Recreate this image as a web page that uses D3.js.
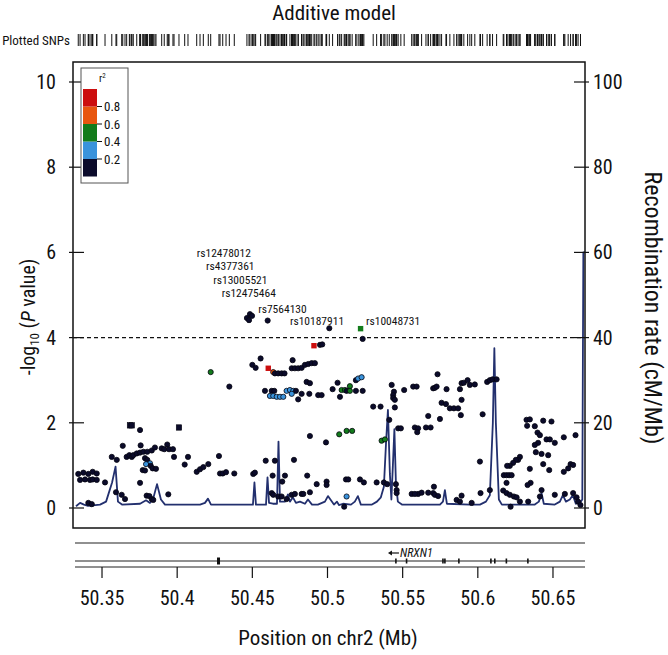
<!DOCTYPE html>
<html><head><meta charset="utf-8">
<script src="https://cdn.jsdelivr.net/npm/d3@7"></script>
<style>
html,body{margin:0;padding:0;background:#fff;}
svg{display:block;}
text{font-family:"Liberation Sans Narrow","Arial Narrow","Roboto Condensed",Roboto,sans-serif;fill:#111;}
</style></head><body>
<svg id="chart" width="668" height="655"></svg>
<script>
// ---------------- data ----------------
const r2Breaks = [0, 0.2, 0.4, 0.6, 0.8, 1.0];
const r2Colors = ["#0b0b2b", "#3a93dc", "#137c1b", "#e8560f", "#cc0e0e"];
const r2TickLabels = ["0.2", "0.4", "0.6", "0.8"];
const xTicks = [50.35, 50.4, 50.45, 50.5, 50.55, 50.6, 50.65];
const yTicks = [0, 2, 4, 6, 8, 10];
const recombTicks = [0, 20, 40, 60, 80, 100];
const sigThreshold = 4;

// [position Mb, -log10 P, r2 class (0..4), shape (0 circle, 1 square)]
const snps = [
  [50.4464,4.46,0,0],[50.4484,4.55,0,0],[50.4498,4.51,0,0],[50.4478,4.41,0,0],
  [50.4602,4.40,0,0],[50.5012,4.22,0,0],[50.5220,4.21,2,1],[50.5234,3.97,0,0],
  [50.4910,3.81,4,1],[50.4950,3.83,0,0],[50.4965,3.84,0,0],
  [50.4555,3.51,0,0],[50.4500,3.36,0,0],[50.4522,3.29,0,0],[50.4606,3.28,4,1],
  [50.4639,3.19,3,0],[50.4650,3.16,0,0],[50.4672,3.16,0,0],[50.4695,3.16,0,0],[50.4714,3.16,0,0],
  [50.4768,3.47,0,0],[50.4762,3.28,0,0],[50.4783,3.28,0,0],[50.4805,3.28,0,0],[50.4828,3.29,0,0],
  [50.4850,3.36,0,0],[50.4872,3.38,0,0],[50.4895,3.40,0,0],[50.4916,3.40,0,0],
  [50.4861,2.96,0,0],[50.4883,2.93,0,0],[50.5067,2.94,0,0],
  [50.5189,3.00,0,0],[50.5204,3.04,1,0],[50.5227,3.07,1,0],[50.5149,2.86,2,0],[50.5034,2.79,0,0],
  [50.4584,2.75,0,0],[50.4629,2.75,0,0],[50.4646,2.75,0,0],[50.4728,2.75,1,0],[50.4750,2.77,1,0],
  [50.4772,2.75,1,0],[50.4790,2.75,0,0],[50.4828,2.68,0,0],[50.4879,2.68,0,0],[50.4938,2.65,0,0],[50.4961,2.65,0,0],
  [50.4617,2.63,1,0],[50.4639,2.63,1,0],[50.4662,2.61,1,0],[50.4684,2.61,1,0],[50.4706,2.61,1,0],
  [50.4762,2.68,1,0],[50.4805,2.55,0,0],[50.5083,2.61,0,0],
  [50.5094,2.77,2,0],[50.5116,2.77,2,0],[50.5127,2.75,0,0],[50.5149,2.75,2,0],[50.5189,2.75,0,0],[50.5234,2.75,0,0],
  [50.5427,2.89,0,0],[50.5442,2.73,0,0],[50.5437,2.65,0,0],[50.5437,2.58,0,0],[50.5448,2.54,0,0],[50.5448,2.36,0,0],
  [50.5510,2.77,0,0],[50.5570,2.85,0,0],[50.5593,2.85,0,0],
  [50.5304,2.38,0,0],[50.5353,2.38,0,0],[50.5411,2.07,0,0],[50.5470,1.87,0,0],[50.5488,1.87,0,0],
  [50.4883,1.69,0,0],[50.4990,1.54,0,0],[50.5078,1.73,2,0],[50.5127,1.81,2,0],[50.5164,1.81,2,0],
  [50.5360,1.58,2,0],[50.5382,1.61,2,0],
  [50.4589,1.11,0,0],[50.4650,1.11,0,0],[50.4777,1.13,0,0],
  [50.4506,0.80,0,0],[50.4517,0.83,0,0],[50.4635,0.76,0,0],[50.4717,0.76,0,0],[50.4699,0.62,0,0],
  [50.4865,0.76,0,0],[50.4928,0.56,0,0],[50.4994,0.62,0,0],[50.4994,0.54,0,0],
  [50.5123,0.67,0,0],[50.5138,0.67,0,0],[50.5216,0.67,0,0],[50.5242,0.60,0,0],[50.5327,0.60,0,0],
  [50.5375,0.60,0,0],[50.5397,0.56,0,0],[50.5455,0.56,0,0],
  [50.4629,0.35,0,0],[50.4639,0.31,0,0],[50.4672,0.27,0,0],[50.4695,0.27,0,0],[50.4728,0.21,0,0],
  [50.4762,0.31,0,0],[50.4783,0.33,0,0],[50.4828,0.33,0,0],[50.4839,0.33,0,0],[50.4883,0.37,0,0],
  [50.5127,0.27,1,0],[50.5111,0.03,0,0],[50.5460,0.42,0,0],[50.5460,0.35,0,0],[50.5560,0.33,0,0],[50.5603,0.33,0,0],
  [50.5732,3.14,0,0],[50.5703,2.81,0,0],[50.5714,2.82,0,0],[50.5726,2.85,0,0],[50.5792,2.79,0,0],
  [50.5892,2.93,0,0],[50.5907,2.94,0,0],[50.5881,2.79,0,0],[50.5932,3.00,0,0],[50.5947,2.89,0,0],[50.5980,2.90,0,0],
  [50.6062,2.96,0,0],[50.6080,3.00,0,0],[50.6098,3.02,0,0],[50.6125,3.02,0,0],
  [50.5759,2.47,0,0],[50.5788,2.44,0,0],[50.5814,2.34,0,0],[50.5841,2.34,0,0],[50.5869,2.34,0,0],[50.5892,2.54,0,0],
  [50.5670,2.16,0,0],[50.5748,2.09,0,0],[50.5887,2.18,0,0],[50.6032,2.20,0,0],
  [50.5581,1.89,0,0],[50.5603,1.87,0,0],[50.5597,1.78,0,0],[50.5655,1.89,0,0],[50.5686,1.89,0,0],
  [50.6014,1.09,0,0],
  [50.6324,2.07,0,0],[50.6346,2.08,0,0],[50.6328,1.93,0,0],[50.6379,1.92,0,0],[50.6435,2.05,0,0],[50.6490,2.03,0,0],
  [50.6397,1.77,0,0],[50.6413,1.71,0,0],[50.6457,1.61,0,0],[50.6479,1.61,0,0],[50.6512,1.53,0,0],
  [50.6572,1.66,0,0],[50.6650,1.71,0,0],[50.6401,1.53,0,0],[50.6379,1.48,0,0],
  [50.6386,1.31,0,0],[50.6424,1.27,0,0],[50.6468,1.24,0,0],[50.6435,1.03,0,0],[50.6475,0.89,0,0],[50.6346,0.92,0,0],
  [50.6280,1.20,0,0],[50.6268,1.13,0,0],[50.6253,1.13,0,0],[50.6235,1.06,0,0],[50.6213,0.99,0,0],[50.6195,0.99,0,0],
  [50.6572,0.85,0,0],[50.6601,0.93,0,0],[50.6617,1.03,0,0],[50.6634,1.01,0,0],
  [50.6173,0.77,0,0],[50.6191,0.77,0,0],[50.6208,0.77,0,0],[50.6225,0.77,0,0],[50.6191,0.59,0,0],
  [50.6351,0.59,0,0],[50.6331,0.54,0,0],[50.5708,0.50,0,0],[50.6424,0.42,0,0],[50.6080,0.42,0,0],[50.6018,0.35,0,0],
  [50.5581,0.33,0,0],[50.5626,0.36,0,0],[50.5670,0.36,0,0],[50.5703,0.35,0,0],[50.5714,0.31,0,0],[50.5736,0.28,0,0],
  [50.5892,0.29,0,0],[50.5859,0.19,0,0],[50.5881,0.15,0,0],[50.5959,0.12,0,0],
  [50.6169,0.41,0,0],[50.6191,0.35,0,0],[50.6213,0.31,0,0],[50.6240,0.27,0,0],[50.6258,0.25,0,0],[50.6218,0.03,0,0],
  [50.6280,0.15,0,0],[50.6413,0.27,0,0],[50.6512,0.31,0,0],[50.6579,0.33,0,0],[50.6634,0.35,0,0],
  [50.6657,0.25,0,0],[50.6667,0.15,0,0],[50.6683,0.07,0,0],[50.6335,0.15,0,0],
  [50.4223,3.19,2,0],[50.4347,2.85,0,0],[50.3686,1.94,0,1],[50.3698,1.94,0,1],[50.3753,1.83,0,0],[50.4012,1.89,0,1],
  [50.3638,1.46,0,0],[50.3757,1.47,0,0],[50.3565,1.20,0,0],[50.3598,1.13,0,0],
  [50.3664,1.20,0,0],[50.3682,1.24,0,0],[50.3698,1.20,0,0],[50.3708,1.24,0,0],[50.3731,1.28,0,0],
  [50.3753,1.30,0,0],[50.3775,1.32,0,0],[50.3801,1.32,0,0],[50.3831,1.35,0,0],[50.3852,1.42,0,0],
  [50.3897,1.40,0,0],[50.3914,1.38,0,0],[50.3934,1.49,0,0],[50.3946,1.38,0,0],[50.3972,1.38,0,0],[50.3979,1.20,0,0],
  [50.3786,1.17,0,0],[50.3801,1.13,0,0],[50.3819,1.05,1,0],[50.3793,1.03,1,0],[50.3824,0.99,0,0],
  [50.3771,0.89,0,0],[50.3786,0.88,0,0],[50.3837,0.93,0,0],[50.3859,0.92,0,0],
  [50.4050,1.02,0,0],[50.4072,1.20,0,0],[50.4130,0.85,0,0],[50.4152,0.91,0,0],[50.4174,0.96,0,0],[50.4207,1.03,0,0],
  [50.4278,1.22,0,0],[50.4285,0.81,0,0],[50.4303,0.81,0,0],[50.4325,0.84,0,0],[50.4380,0.81,0,0],
  [50.3342,0.80,0,0],[50.3376,0.83,0,0],[50.3409,0.80,0,0],[50.3438,0.85,0,0],[50.3465,0.81,0,0],
  [50.3354,0.66,0,0],[50.3387,0.67,0,0],[50.3420,0.66,0,0],[50.3438,0.67,0,0],[50.3465,0.66,0,0],
  [50.3520,0.60,0,0],[50.3753,0.59,0,0],[50.3593,0.37,0,0],[50.3631,0.31,0,0],[50.3653,0.21,0,0],
  [50.3797,0.29,0,0],[50.3815,0.28,0,0],[50.3831,0.21,0,0],[50.3841,0.19,0,0],[50.3941,0.32,0,0],
  [50.3409,0.12,0,0],[50.3432,0.09,0,0]
];

// labelled SNPs: text anchor position (Mb, -log10 P)
const snpLabels = [
  ["rs12478012", 50.4130, 5.89],
  ["rs4377361",  50.4192, 5.59],
  ["rs13005521", 50.4240, 5.25],
  ["rs12475464", 50.4296, 4.95],
  ["rs7564130",  50.4539, 4.57],
  ["rs10187911", 50.4750, 4.29],
  ["rs10048731", 50.5256, 4.29]
];

// recombination rate [position Mb, cM/Mb]
const recomb = [
  [50.3327,0.4],[50.3354,1.2],[50.3380,0.8],[50.3407,0.5],[50.3487,0.8],[50.3527,1.5],[50.3567,6],
  [50.3590,9.7],[50.3606,1.5],[50.3633,0.8],[50.3753,1],[50.3793,1.8],[50.3819,1.2],[50.3839,2],
  [50.3866,5.6],[50.3892,2],[50.3919,0.8],[50.4152,0.8],[50.4185,1.2],[50.4205,2.2],[50.4225,0.8],
  [50.4504,0.8],[50.4514,6],[50.4524,0.8],[50.4591,0.8],[50.4601,7.2],[50.4611,1.2],[50.4637,1],
  [50.4664,1],[50.4674,15.6],[50.4684,1.5],[50.4717,1.5],[50.4737,3.2],[50.4750,1.5],[50.4770,2.5],
  [50.4790,1.2],[50.4817,1.5],[50.4850,1],[50.4870,2],[50.4897,0.8],[50.4936,0.8],[50.4983,1.5],
  [50.5003,2.8],[50.5023,1.8],[50.5043,0.8],[50.5063,1.5],[50.5076,0.7],[50.5103,1],[50.5156,0.8],
  [50.5182,1.5],[50.5202,2.8],[50.5222,0.8],[50.5296,0.8],[50.5329,1.5],[50.5355,2.5],[50.5375,5],
  [50.5389,15],[50.5402,23],[50.5415,8],[50.5425,2],[50.5435,10],[50.5445,18.5],[50.5455,6],
  [50.5468,1.5],[50.5495,0.8],[50.5748,0.8],[50.5768,1.5],[50.5781,4.2],[50.5794,1],[50.5947,0.8],
  [50.6014,0.8],[50.6054,1.5],[50.6080,3],[50.6100,20],[50.6110,37.5],[50.6120,20],[50.6140,2],
  [50.6160,0.8],[50.6379,0.8],[50.6406,1.5],[50.6424,3.5],[50.6439,1],[50.6512,0.8],[50.6546,1.5],
  [50.6566,3],[50.6586,1.5],[50.6612,2],[50.6632,3],[50.6652,1],[50.6679,1.2],[50.6695,2],
  [50.6702,60],[50.6719,60]
];

// gene track
const geneName = "NRXN1";
const geneLabelPos = 50.5482;
const geneExons = [50.4275, 50.5455, 50.5526, 50.5768, 50.5781, 50.5874, 50.6087, 50.6113, 50.6190, 50.6333];

// ---------------- layout ----------------
const svg = d3.select("#chart");
const L = 73, R = 585, T = 62, B = 528;
const x = d3.scaleLinear().domain([50.3307, 50.6713]).range([L, R]);
const y = d3.scaleLinear().domain([0, 10]).range([508, 82]);
const yR = d3.scaleLinear().domain([0, 100]).range([508, 82]);
const col = d3.scaleOrdinal().domain([0,1,2,3,4]).range(r2Colors);

svg.append("defs").append("clipPath").attr("id","clip")
  .append("rect").attr("x",L).attr("y",T).attr("width",R-L).attr("height",B-T);

// title
svg.append("text").attr("x",334).attr("y",20).attr("text-anchor","middle")
  .attr("font-size",21).text("Additive model");

// plotted SNPs rug
svg.append("text").attr("x",70).attr("y",45).attr("text-anchor","end")
  .attr("font-size",13).text("Plotted SNPs");
svg.append("g").selectAll("line").data(snps).join("line")
  .attr("x1",d=>x(d[0])).attr("x2",d=>x(d[0])).attr("y1",34).attr("y2",46)
  .attr("stroke","#111").attr("stroke-width",1);

// recombination line
const plot = svg.append("g").attr("clip-path","url(#clip)");
plot.append("path").datum(recomb)
  .attr("d", d3.line().x(d=>x(d[0])).y(d=>yR(d[1])))
  .attr("fill","none").attr("stroke","#23306e").attr("stroke-width",1.8)
  .attr("stroke-linejoin","round");

// significance line
plot.append("line").attr("x1",L).attr("x2",R).attr("y1",y(sigThreshold)).attr("y2",y(sigThreshold))
  .attr("stroke","#111").attr("stroke-width",1.3).attr("stroke-dasharray","4,3");

// points
const pts = plot.append("g");
pts.selectAll("circle").data(snps.filter(d=>d[3]===0)).join("circle")
  .attr("cx",d=>x(d[0])).attr("cy",d=>y(d[1])).attr("r",2.6)
  .attr("fill",d=>col(d[2])).attr("stroke","#050510").attr("stroke-width",0.8);
pts.selectAll("rect").data(snps.filter(d=>d[3]===1)).join("rect")
  .attr("x",d=>x(d[0])-2.7).attr("y",d=>y(d[1])-2.7).attr("width",5.4).attr("height",5.4)
  .attr("fill",d=>col(d[2])).attr("stroke",d=>d[2]===0?"#050510":"none").attr("stroke-width",0.6);

// SNP labels
svg.append("g").selectAll("text").data(snpLabels).join("text")
  .attr("x",d=>x(d[1])).attr("y",d=>y(d[2]))
  .attr("font-family","'Liberation Sans',Arial,sans-serif")
  .attr("font-size",11.5).text(d=>d[0]);

// box
svg.append("rect").attr("x",L).attr("y",T).attr("width",R-L).attr("height",B-T)
  .attr("fill","none").attr("stroke","#111").attr("stroke-width",1.5);

// left axis
const gl = svg.append("g");
yTicks.forEach(t=>{
  gl.append("line").attr("x1",L-4).attr("x2",L+11).attr("y1",y(t)).attr("y2",y(t))
    .attr("stroke","#111").attr("stroke-width",1.2);
});
gl.selectAll("text").data(yTicks).join("text")
  .attr("x",56).attr("y",d=>y(d)+7).attr("text-anchor","end").attr("font-size",20).text(d=>d);

// right axis
const gr = svg.append("g");
recombTicks.forEach(t=>{
  gr.append("line").attr("x1",R-11).attr("x2",R+4).attr("y1",yR(t)).attr("y2",yR(t))
    .attr("stroke","#111").attr("stroke-width",1.2);
});
gr.selectAll("text").data(recombTicks).join("text")
  .attr("x",593).attr("y",d=>yR(d)+7).attr("text-anchor","start").attr("font-size",20).text(d=>d);

// axis titles
const yl = svg.append("text").attr("transform","translate(35,317) rotate(-90)")
  .attr("text-anchor","middle").attr("font-size",20);
yl.append("tspan").text("-log");
yl.append("tspan").attr("font-size",13).attr("dy",4).text("10");
yl.append("tspan").attr("dy",-4).text(" (");
yl.append("tspan").attr("font-style","italic").text("P");
yl.append("tspan").text(" value)");

svg.append("text").attr("transform","translate(645,308) rotate(90)")
  .attr("text-anchor","middle").attr("font-size",24).text("Recombination rate (cM/Mb)");

// gene panel
const gp = svg.append("g");
[543, 561, 567].forEach(yy=>{
  gp.append("line").attr("x1",75).attr("x2",R).attr("y1",yy).attr("y2",yy).attr("stroke","#222").attr("stroke-width",1.2);
});
gp.selectAll("rect.exon").data(geneExons).join("rect").attr("class","exon")
  .attr("x",(d,i)=>x(d)-(i===0?1.5:0.8)).attr("y",(d,i)=>i===0?557.5:558.5)
  .attr("width",(d,i)=>i===0?3:1.6).attr("height",(d,i)=>i===0?7:5).attr("fill","#111");
gp.append("text").attr("x",x(geneLabelPos)).attr("y",557).attr("font-size",12)
  .attr("font-style","italic").text(geneName);
gp.append("line").attr("x1",x(geneLabelPos)-1).attr("x2",x(geneLabelPos)-10).attr("y1",553).attr("y2",553)
  .attr("stroke","#111").attr("stroke-width",1.2);
gp.append("path").attr("d",`M${x(geneLabelPos)-12},553 l4,-2.5 l0,5 z`).attr("fill","#111");

// x axis
const gx = svg.append("g");
gx.selectAll("line").data(xTicks).join("line")
  .attr("x1",d=>x(d)).attr("x2",d=>x(d)).attr("y1",567).attr("y2",578)
  .attr("stroke","#111").attr("stroke-width",1.2);
gx.selectAll("text").data(xTicks).join("text")
  .attr("x",d=>x(d)).attr("y",605).attr("text-anchor","middle").attr("font-size",20).text(d=>d);
svg.append("text").attr("x",328).attr("y",645).attr("text-anchor","middle")
  .attr("font-size",21).text("Position on chr2 (Mb)");

// legend
const lg = svg.append("g");
lg.append("rect").attr("x",81).attr("y",68).attr("width",47).attr("height",115)
  .attr("fill","#fff").attr("stroke","#555").attr("stroke-width",1);
const ly = d3.scaleLinear().domain([0,1]).range([176.5, 89]);
lg.selectAll("rect.blk").data(r2Colors).join("rect").attr("class","blk")
  .attr("x",83).attr("width",14).attr("y",(d,i)=>ly(r2Breaks[i+1])).attr("height",(d,i)=>ly(r2Breaks[i])-ly(r2Breaks[i+1]))
  .attr("fill",d=>d);
lg.selectAll("line").data(r2TickLabels).join("line")
  .attr("x1",97).attr("x2",102).attr("y1",d=>ly(+d)).attr("y2",d=>ly(+d)).attr("stroke","#111");
lg.selectAll("text.lab").data(r2TickLabels).join("text").attr("class","lab")
  .attr("x",104).attr("y",d=>ly(+d)+4.5).attr("font-size",13).text(d=>d);
const rt = lg.append("text").attr("x",99).attr("y",82).attr("font-size",11).text("r");
rt.append("tspan").attr("font-size",7).attr("dy",-4).text("2");
</script>
</body></html>
